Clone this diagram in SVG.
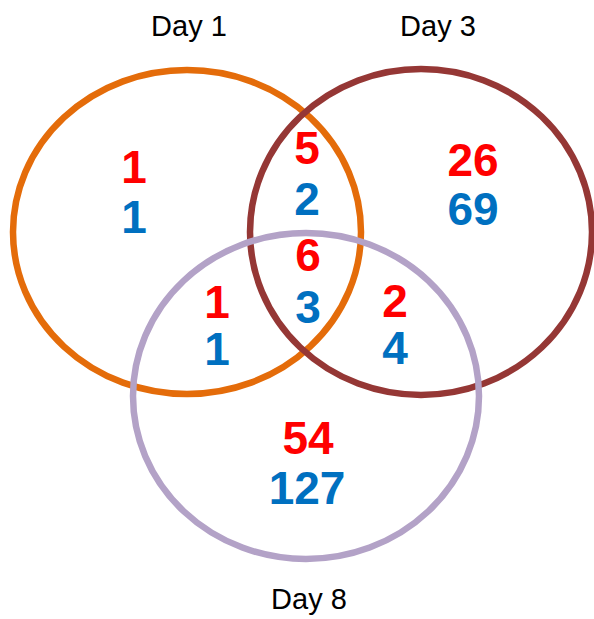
<svg xmlns="http://www.w3.org/2000/svg" width="594" height="619" viewBox="0 0 594 619">
<style>
.c{fill:none;stroke-width:6.5}
.lbl{font-family:"Liberation Sans",Arial,sans-serif;font-size:29px;fill:#000;text-anchor:middle}
.n{font-family:"Liberation Sans",Arial,sans-serif;font-size:46px;font-weight:bold;text-anchor:middle}
.r{fill:#FF0000}
.b{fill:#0070C0}
</style>
<rect width="594" height="619" fill="#fff"/>
<g id="day1">
<ellipse class="c" cx="187" cy="232" rx="174" ry="162" stroke="#E46C0A"/>
</g>
<g id="day3">
<ellipse class="c" cx="421" cy="232" rx="171" ry="163" stroke="#953735"/>
</g>
<g id="day8">
<ellipse class="c" cx="306" cy="396" rx="173" ry="163" stroke="#B3A2C7"/>
</g>
<g id="labels">
<text class="lbl" x="189" y="36">Day 1</text>
<text class="lbl" x="438" y="36">Day 3</text>
<text class="lbl" x="309" y="609">Day 8</text>
</g>
<g id="counts">
<text class="n r" x="134" y="183">1</text>
<text class="n b" x="134" y="233">1</text>
<text class="n r" x="307" y="164">5</text>
<text class="n b" x="307" y="215">2</text>
<text class="n r" x="473" y="176">26</text>
<text class="n b" x="473" y="225">69</text>
<text class="n r" x="308" y="271">6</text>
<text class="n b" x="308" y="323">3</text>
<text class="n r" x="217" y="318">1</text>
<text class="n b" x="217" y="365">1</text>
<text class="n r" x="395" y="317">2</text>
<text class="n b" x="395" y="364">4</text>
<text class="n r" x="308" y="454">54</text>
<text class="n b" x="307" y="504">127</text>
</g>
</svg>
